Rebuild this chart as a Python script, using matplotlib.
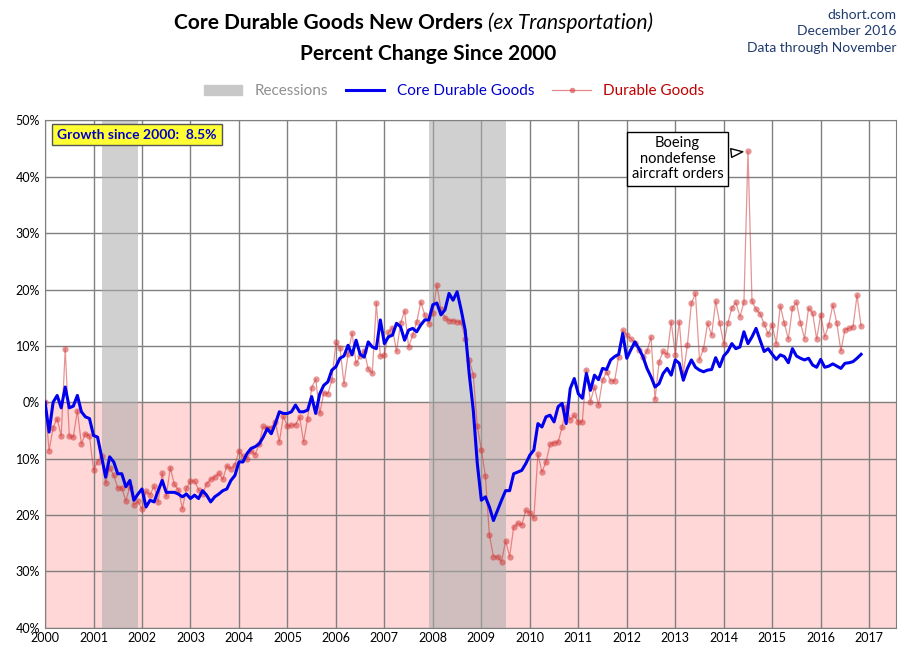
import numpy as np
import matplotlib.pyplot as plt
from matplotlib.ticker import FuncFormatter

plt.rcParams['font.family'] = ['Lato', 'DejaVu Sans']

# Monthly percent change since Jan 2000, Jan 2000 .. Nov 2016
core = [
    0, -5.3, 0, 1.2, -1, 2.7, -1, -0.7, 1.2, -1.7, -2.6, -2.9,
    -5.9, -6.2, -9.7, -13.3, -9.7, -10.6, -12.7, -12.7, -15, -13.9, -17.4, -16.3,
    -15.4, -18.6, -17.4, -17.7, -15.7, -13.9, -16, -16, -16, -16.3, -16.8, -16.3,
    -17.1, -16.5, -17.1, -15.7, -16.5, -17.7, -16.8, -16.3, -15.7, -15.4, -13.9, -13,
    -10.6, -10.6, -9.1, -8.2, -7.9, -7.4, -6.2, -4.7, -5.6, -3.8, -1.7, -2,
    -2, -1.7, -0.5, -1.7, -1.7, -1.4, 1, -2, 1.5, 3, 3.6, 5.7,
    6.3, 7.8, 8.2, 10.1, 8.4, 11, 8.5, 8, 10.7, 9.8, 9.5, 14.6,
    10.4, 11.6, 11.9, 14, 13.4, 11, 12.8, 13.1, 12.5, 13.7, 14.6, 14.6,
    17.3, 17.6, 15.5, 16.4, 19.3, 18.1, 19.6, 16.4, 12.8, 5.0, -1.4, -10.9,
    -17.4, -16.8, -18.6, -21, -19.2, -17.4, -15.7, -15.7, -12.7, -12.4, -12.1, -10.9,
    -9.4, -8.5, -3.8, -4.4, -2.6, -2.3, -3.5, -0.8, -0.2, -3.8, 2.4, 4.2,
    1.5, 0.7, 5.1, 2.1, 4.8, 4, 6, 5.8, 7.5, 8.1, 8.5, 12.2,
    7.8, 9.3, 10.7, 9.5, 8.1, 6, 4.5, 2.7, 3.3, 5.1, 6, 4.8,
    7.5, 6.9, 3.9, 6, 7.5, 6.2, 5.7, 5.4, 5.7, 5.8, 7.9, 6.3,
    8.2, 9, 10.4, 9.5, 9.8, 12.5, 10.4, 11.6, 13.1, 11, 9, 9.5,
    8.5, 7.6, 8.4, 8.1, 7, 9.5, 8.2, 7.8, 7.5, 7.8, 6.6, 6.2,
    7.6, 6.2, 6.4, 6.8, 6.4, 6, 6.9, 7, 7.2, 7.8, 8.5,
]
durable = [
    0, -8.6, -4.5, -2.9, -6, 9.5, -6, -6.2, -1.5, -7.4, -5.6, -6,
    -12, -10.6, -9.5, -14.4, -11.6, -13, -15.2, -15.2, -17.5, -15, -18.2, -17.6,
    -19, -15.8, -16.4, -14.9, -17.7, -12.6, -16.7, -11.6, -14.6, -15.5, -18.9, -15.3,
    -14, -14, -15.5, -16.3, -14.5, -13.7, -13.3, -12.6, -13.7, -11.3, -11.8, -11.1,
    -8.6, -9.6, -10, -8.6, -9.3, -7.4, -4.3, -4.5, -4.5, -3.5, -7, -2.5,
    -4.3, -4.1, -4, -2.6, -7, -2.9, 2.6, 4.1, -2, 1.7, 1.5, 3.9,
    10.6, 9.7, 3.3, 8.5, 12.3, 6.9, 8.2, 9.1, 5.9, 5.1, 17.6, 8.2,
    8.3, 12.4, 13.2, 9, 14, 16.2, 9.8, 11.9, 14.2, 17.8, 15.5, 13.9,
    15.9, 20.8, 16.5, 15, 14.5, 14.5, 14.3, 14.2, 11.3, 7.5, 4.9, -4.3,
    -8.4, -13.1, -23.6, -27.4, -27.4, -28.3, -24.6, -27.4, -22.2, -21.5, -21.8, -19.2,
    -19.6, -20.6, -9.2, -12.4, -10.6, -7.5, -7.2, -7.1, -4.4, -0.8, -3.1, -2.3,
    -3.5, -3.5, 5.7, 0.1, 2.7, -0.5, 3.9, 5.4, 3.8, 3.8, 8.1, 12.8,
    11.9, 11.3, 10.5, 9.3, 8.1, 9, 11.6, 0.5, 7.2, 9, 8.4, 14.3,
    8.4, 14.3, 5.1, 10.1, 17.6, 19.3, 7.5, 9.5, 14, 11.9, 17.9, 14,
    10.4, 14, 16.7, 17.7, 15.2, 17.7, 44.5, 17.9, 16.5, 15.7, 13.9, 12.1,
    13.7, 10.4, 17.1, 14, 11.2, 16.7, 17.7, 14.1, 11.3, 16.7, 15.8, 11.2,
    15.5, 11.6, 13.7, 17.3, 14, 9.1, 12.9, 13.1, 13.4, 19, 13.5,
]
recessions = [(2001 + 2 / 12, 2001 + 11 / 12), (2007 + 11 / 12, 2009 + 6 / 12)]
years = list(range(2000, 2018))

dates = 2000 + np.arange(len(core)) / 12

fig = plt.figure(figsize=(9.08, 6.62), dpi=100)
ax = fig.add_axes([0.0496, 0.052, 0.937, 0.766])
ax.set_xlim(2000, 2017.55)
ax.set_ylim(-40, 50)

ax.axhspan(-40, 0, color='#FFD7D7', zorder=0)
for s, e in recessions:
    ax.axvspan(s, e, color='#AAAAAA', alpha=0.55, lw=0, zorder=1)

ax.plot(dates, durable, color='#D23C3C', lw=0.9, alpha=0.55, marker='o', ms=4.5,
        mec='none', zorder=3)
ax.plot(dates, core, color='#0000EE', lw=2.2, zorder=4)

ax.set_xticks(years)
ax.set_yticks(range(-40, 51, 10))
ax.yaxis.set_major_formatter(FuncFormatter(lambda v, p: f"{abs(int(v))}%"))
ax.grid(True, color='#808080', lw=1)
ax.set_axisbelow(True)
ax.tick_params(labelsize=9, length=0)
for sp in ax.spines.values():
    sp.set_color('#808080')

ax.text(2000.25, 47.5, 'Growth since 2000:  8.5%', color='#0000CC', fontsize=10,
        fontweight='bold', va='center',
        bbox=dict(boxstyle='square,pad=0.35', fc='#FFFF33', ec='#555555'), zorder=6)

ax.annotate('Boeing\nnondefense\naircraft orders', xy=(2014.45, 44.5),
            xytext=(2013.05, 43.2), ha='center', va='center', fontsize=10.5,
            linespacing=1.15,
            bbox=dict(boxstyle='square,pad=0.3', fc='white', ec='black'),
            arrowprops=dict(arrowstyle='wedge,tail_width=0.6', fc='white', ec='black'),
            zorder=6)

fig.text(0.537, 0.965, 'Core Durable Goods New Orders ', ha='right', va='center',
         fontsize=15, fontweight='bold')
fig.text(0.537, 0.965, '(ex Transportation)', ha='left', va='center',
         fontsize=15, style='italic')
fig.text(0.471, 0.918, 'Percent Change Since 2000', ha='center', va='center',
         fontsize=15, fontweight='bold')
fig.text(0.987, 0.978, 'dshort.com', ha='right', va='center', fontsize=10, color='#1F3A6E')
fig.text(0.987, 0.953, 'December 2016', ha='right', va='center', fontsize=10, color='#1F3A6E')
fig.text(0.987, 0.927, 'Data through November', ha='right', va='center', fontsize=10, color='#1F3A6E')

# legend
handles = [
    plt.Rectangle((0, 0), 1, 1, color='#C8C8C8'),
    plt.Line2D([], [], color='#0000EE', lw=2.2),
    plt.Line2D([], [], color='#D23C3C', lw=0.9, alpha=0.6, marker='o', ms=4, mec='none'),
]
leg = fig.legend(handles, ['Recessions', 'Core Durable Goods', 'Durable Goods'],
                 loc='center', bbox_to_anchor=(0.50, 0.862), ncol=3, frameon=False,
                 fontsize=11, handlelength=2.5, columnspacing=1.2)
for t, c in zip(leg.get_texts(), ['#909090', '#0000CC', '#C00000']):
    t.set_color(c)

fig.savefig('out.png', dpi=100)
